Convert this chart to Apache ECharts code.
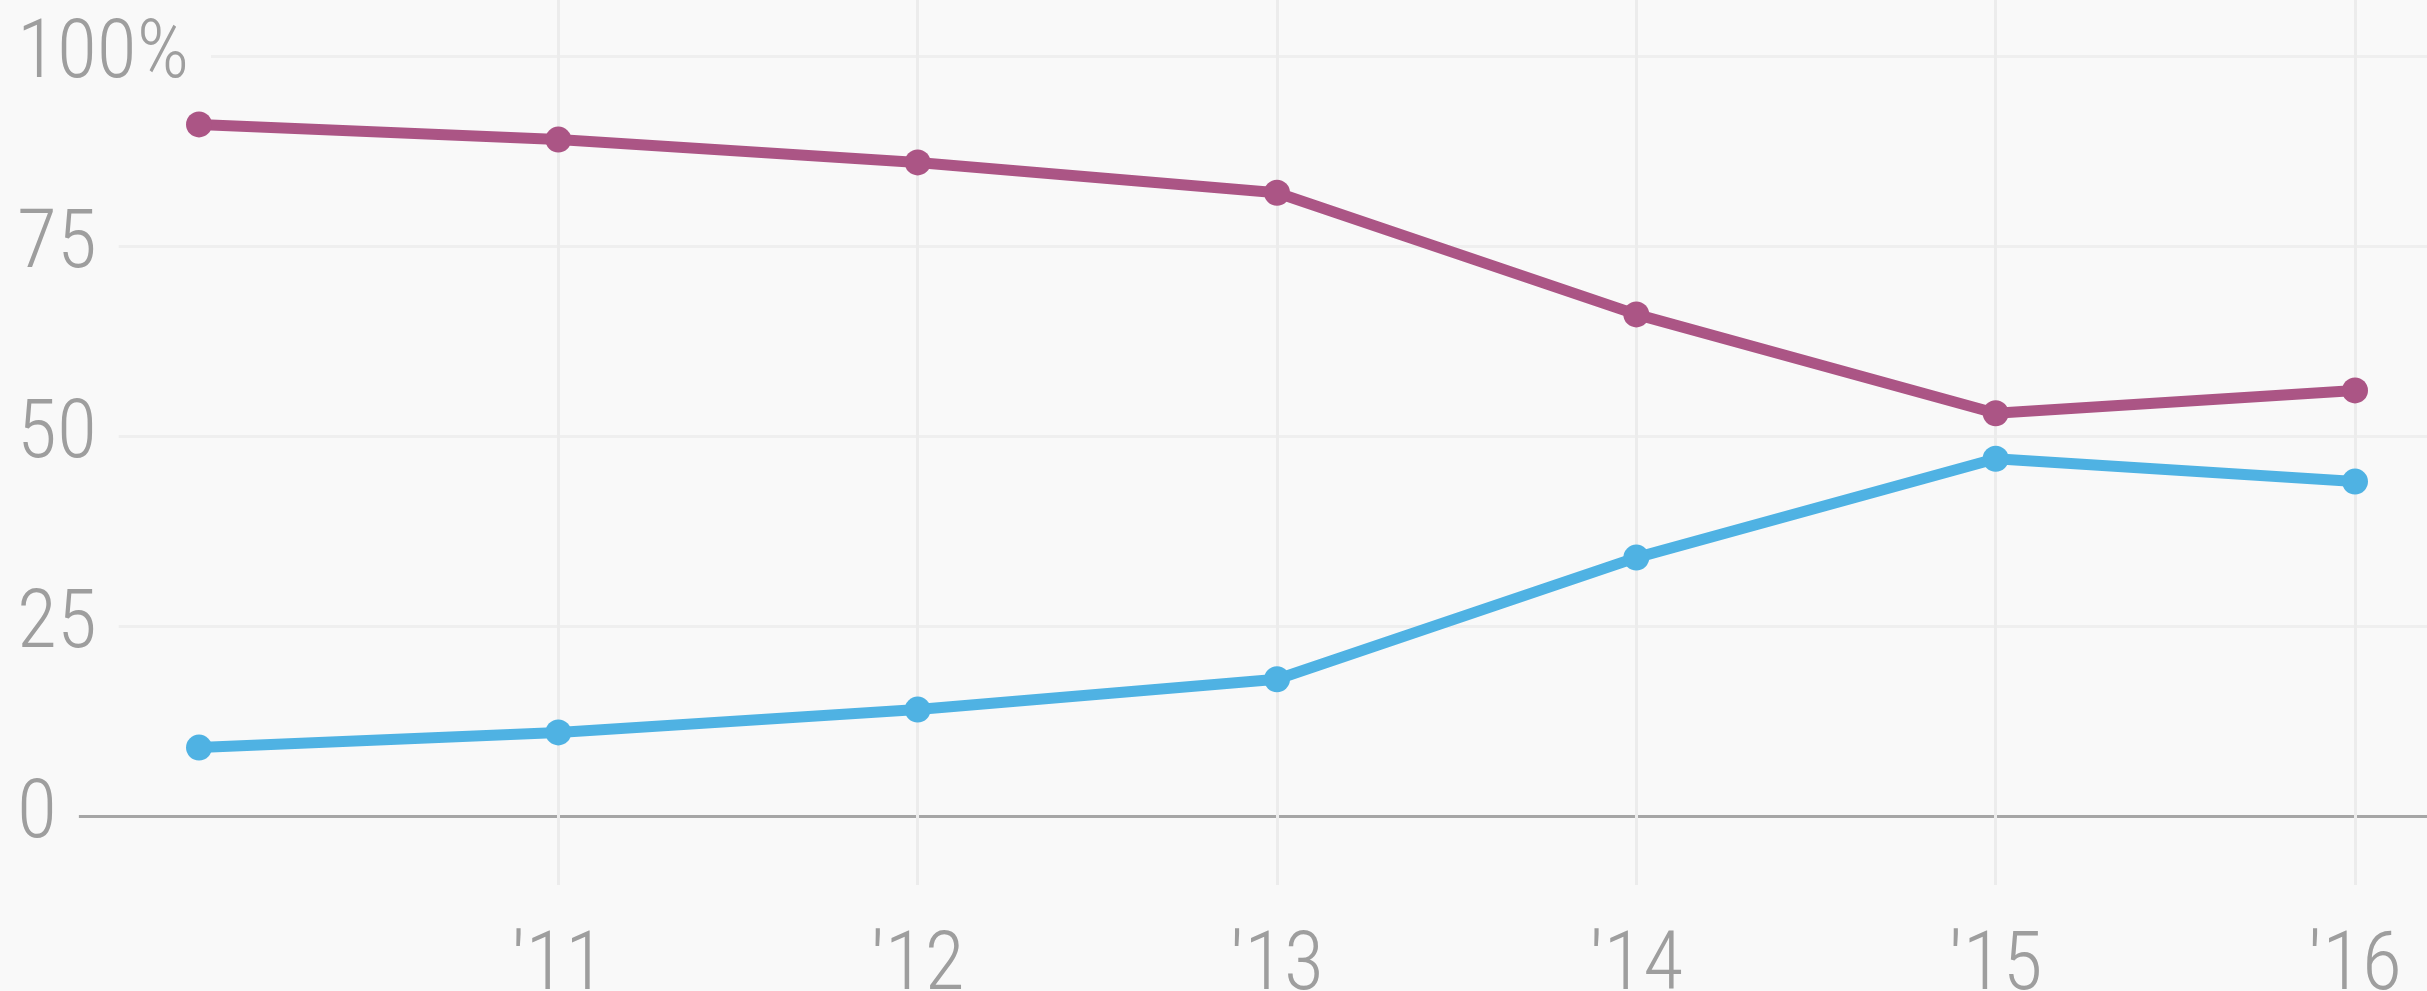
<!DOCTYPE html>
<html>
<head>
<meta charset="utf-8">
<script src="https://cdn.jsdelivr.net/npm/echarts@6/dist/echarts.min.js"></script>
<style>
html,body{margin:0;padding:0;background:#f9f9f9;}
#c{width:2427px;height:991px;}
</style>
</head>
<body>
<div id="c"></div>
<script>
const categories = ["\u203210", "\u203211", "\u203212", "\u203213", "\u203214", "\u203215", "\u203216"];
const seriesMagenta = [91, 89, 86, 82, 66, 53, 56];
const seriesBlue = [9, 11, 14, 18, 34, 47, 44];
const yTicks = [0, 25, 50, 75, 100];

const chart = echarts.init(document.getElementById('c'));
const labelColor = '#9e9e9e';
const font = 'Roboto';
const stretch = 'condensed';

chart.setOption({
  backgroundColor: '#f9f9f9',
  animation: false,
  grid: [
    { left: 199, right: 72, top: 0, bottom: 106, outerBoundsMode: 'none', containLabel: false },
    { left: 199, right: 72, top: 56, bottom: 175, outerBoundsMode: 'none', containLabel: false },
    { left: 17, right: 0, top: 56, bottom: 175, outerBoundsMode: 'none', containLabel: false }
  ],
  xAxis: [
    {
      gridIndex: 0, type: 'category', data: categories, boundaryGap: false,
      axisLine: { show: false }, axisTick: { show: false },
      splitLine: { show: true, interval: (i) => i > 0, lineStyle: { color: '#ececec', width: 3 } },
      axisLabel: {
        interval: (i) => i > 0, color: labelColor, fontFamily: font, fontWeight: 300,
        fontStyle: stretch, fontSize: 82, margin: 42
      }
    },
    { gridIndex: 1, type: 'category', data: categories, boundaryGap: false, show: false },
    { gridIndex: 2, type: 'value', show: false, min: 0, max: 1 }
  ],
  yAxis: [
    { gridIndex: 0, type: 'value', show: false, min: 0, max: 1, splitLine: { show: false } },
    { gridIndex: 1, type: 'value', show: false, min: 0, max: 100, interval: 25, splitLine: { show: false } },
    {
      gridIndex: 2, type: 'value', min: yTicks[0], max: yTicks[yTicks.length - 1], interval: 25,
      axisLine: { show: false }, axisTick: { show: false },
      splitLine: { show: true, lineStyle: { color: ['#a6a6a6', '#efefef', '#efefef', '#efefef', '#efefef'], width: 3 } },
      axisLabel: {
        inside: true, margin: 0, align: 'left', verticalAlign: 'middle',
        color: labelColor, fontFamily: font, fontWeight: 300, fontStyle: stretch, fontSize: 82,
        backgroundColor: '#f9f9f9', padding: [0, 22, 12, 0],
        formatter: (v) => v === 100 ? v + '%' : String(v)
      }
    }
  ],
  series: [
    {
      type: 'line', xAxisIndex: 1, yAxisIndex: 1, data: seriesMagenta,
      symbol: 'circle', symbolSize: 26,
      lineStyle: { color: '#ab5585', width: 11 }, itemStyle: { color: '#ab5585' }
    },
    {
      type: 'line', xAxisIndex: 1, yAxisIndex: 1, data: seriesBlue,
      symbol: 'circle', symbolSize: 26,
      lineStyle: { color: '#4fb2e3', width: 11 }, itemStyle: { color: '#4fb2e3' }
    }
  ]
});
</script>
</body>
</html>
